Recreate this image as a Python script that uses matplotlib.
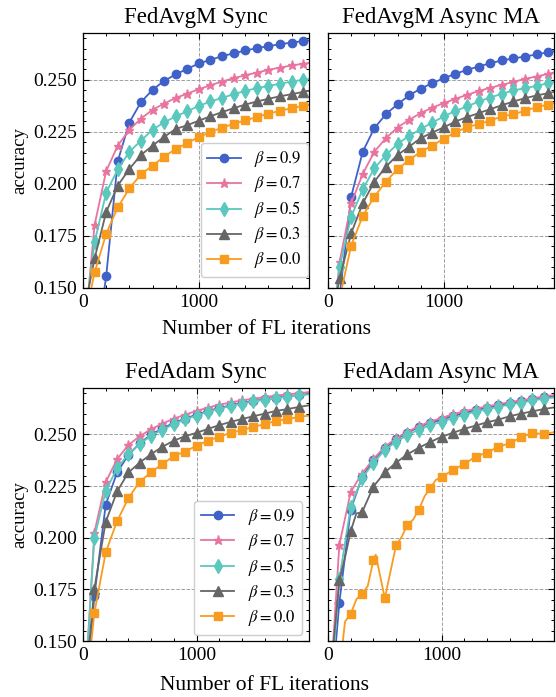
import matplotlib
matplotlib.use('Agg')
import matplotlib.pyplot as plt
from matplotlib.ticker import MultipleLocator, FormatStrFormatter

## Data (accuracy vs FL iterations, markers every 100)
iters_top = [0, 100, 200, 300, 400, 500, 600, 700, 800, 900, 1000,
             1100, 1200, 1300, 1400, 1500, 1600, 1700, 1800, 1900, 1950]
iters_bot = [0, 100, 200, 300, 400, 500, 600, 700, 800, 900, 1000,
             1100, 1200, 1300, 1400, 1500, 1600, 1700, 1800, 1900, 2000]

# FedAvgM Sync
avgm_sync_09 = [0.100, 0.117, 0.1556, 0.2109, 0.2295, 0.2393, 0.2452, 0.2495, 0.2526, 0.2553, 0.2579,
                0.2596, 0.2614, 0.2627, 0.2641, 0.2652, 0.2662, 0.2671, 0.2679, 0.2686, 0.2689]
avgm_sync_07 = [0.121, 0.1803, 0.2062, 0.2184, 0.2260, 0.2314, 0.2356, 0.2386, 0.2413, 0.2434, 0.2455,
                0.2474, 0.2492, 0.2508, 0.2522, 0.2535, 0.2548, 0.2559, 0.2569, 0.2577, 0.2581]
avgm_sync_05 = [0.128, 0.1721, 0.1958, 0.2070, 0.2154, 0.2208, 0.2260, 0.2296, 0.2324, 0.2349, 0.2375,
                0.2396, 0.2413, 0.2431, 0.2447, 0.2460, 0.2471, 0.2481, 0.2492, 0.2500, 0.2504]
avgm_sync_03 = [0.136, 0.1642, 0.1865, 0.1992, 0.2072, 0.2139, 0.2184, 0.2226, 0.2264, 0.2282, 0.2304,
                0.2325, 0.2345, 0.2364, 0.2381, 0.2396, 0.2409, 0.2421, 0.2431, 0.2442, 0.2447]
avgm_sync_00 = [0.131, 0.1575, 0.1760, 0.1888, 0.1978, 0.2046, 0.2088, 0.2131, 0.2168, 0.2196, 0.2226,
                0.2248, 0.2271, 0.2288, 0.2306, 0.2321, 0.2338, 0.2351, 0.2364, 0.2375, 0.2380]

# FedAvgM Async MA
avgm_async_09 = [0.110, 0.146, 0.1939, 0.2155, 0.2268, 0.2335, 0.2383, 0.2425, 0.2458, 0.2484, 0.2508,
                 0.2529, 0.2548, 0.2564, 0.2580, 0.2593, 0.2603, 0.2612, 0.2622, 0.2633, 0.2637]
avgm_async_07 = [0.108, 0.1625, 0.1907, 0.2048, 0.2155, 0.2220, 0.2271, 0.2308, 0.2340, 0.2367, 0.2388,
                 0.2409, 0.2428, 0.2446, 0.2462, 0.2476, 0.2490, 0.2505, 0.2516, 0.2529, 0.2535]
avgm_async_05 = [0.112, 0.1601, 0.1843, 0.1974, 0.2075, 0.2139, 0.2192, 0.2231, 0.2263, 0.2295, 0.2324,
                 0.2351, 0.2372, 0.2396, 0.2415, 0.2433, 0.2449, 0.2460, 0.2471, 0.2484, 0.2490]
avgm_async_03 = [0.125, 0.1546, 0.1763, 0.1907, 0.2011, 0.2083, 0.2139, 0.2179, 0.2220, 0.2247, 0.2272,
                 0.2300, 0.2321, 0.2340, 0.2359, 0.2378, 0.2396, 0.2412, 0.2425, 0.2436, 0.2442]
avgm_async_00 = [0.115, 0.145, 0.1704, 0.1846, 0.1939, 0.2011, 0.2071, 0.2115, 0.2155, 0.2184, 0.2218,
                 0.2248, 0.2272, 0.2288, 0.2304, 0.2324, 0.2335, 0.2351, 0.2369, 0.2381, 0.2388]

# FedAdam Sync
adam_sync_09 = [0.108, 0.1718, 0.2160, 0.2316, 0.2401, 0.2457, 0.2500, 0.2529, 0.2556, 0.2577, 0.2596,
                0.2614, 0.2628, 0.2641, 0.2652, 0.2662, 0.2670, 0.2678, 0.2684, 0.2691, 0.2697]
adam_sync_07 = [0.110, 0.2025, 0.2269, 0.2380, 0.2449, 0.2492, 0.2526, 0.2553, 0.2577, 0.2596, 0.2614,
                0.2630, 0.2644, 0.2655, 0.2665, 0.2673, 0.2681, 0.2688, 0.2694, 0.2700, 0.2706]
adam_sync_05 = [0.112, 0.2000, 0.2226, 0.2337, 0.2405, 0.2454, 0.2494, 0.2524, 0.2550, 0.2574, 0.2591,
                0.2611, 0.2625, 0.2638, 0.2649, 0.2660, 0.2668, 0.2676, 0.2683, 0.2689, 0.2695]
adam_sync_03 = [0.1165, 0.1753, 0.2077, 0.2224, 0.2316, 0.2364, 0.2405, 0.2441, 0.2470, 0.2492, 0.2508,
                0.2527, 0.2545, 0.2561, 0.2575, 0.2588, 0.2601, 0.2614, 0.2623, 0.2633, 0.2642]
adam_sync_00 = [0.111, 0.1636, 0.1929, 0.2080, 0.2192, 0.2272, 0.2317, 0.2357, 0.2396, 0.2417, 0.2446,
                0.2470, 0.2489, 0.2508, 0.2521, 0.2537, 0.2550, 0.2566, 0.2574, 0.2585, 0.2592]

# FedAdam Async MA (beta 0.3 and 0.0 are bumpy, read at finer steps)
adam_async_09 = [0.105, 0.1686, 0.2136, 0.2293, 0.2377, 0.2433, 0.2476, 0.2508, 0.2537, 0.2556, 0.2572,
                 0.2590, 0.2604, 0.2617, 0.2630, 0.2641, 0.2652, 0.2660, 0.2670, 0.2680, 0.2688]
adam_async_07 = [0.110, 0.1966, 0.2222, 0.2311, 0.2381, 0.2441, 0.2481, 0.2513, 0.2540, 0.2562, 0.2580,
                 0.2598, 0.2612, 0.2625, 0.2636, 0.2646, 0.2657, 0.2665, 0.2675, 0.2684, 0.2692]
adam_async_05 = [0.108, 0.1800, 0.2150, 0.2290, 0.2361, 0.2425, 0.2465, 0.2497, 0.2524, 0.2545, 0.2561,
                 0.2580, 0.2596, 0.2611, 0.2623, 0.2633, 0.2646, 0.2654, 0.2665, 0.2673, 0.2680]
adam_async_03_x = [0, 50, 100, 150, 200, 250, 300, 400, 500, 600, 700, 800, 900, 1000,
                   1100, 1200, 1300, 1400, 1500, 1600, 1700, 1800, 1900, 2000]
adam_async_03 = [0.110, 0.150, 0.1793, 0.1905, 0.2032, 0.2118, 0.2123, 0.2248, 0.2316, 0.2364, 0.2404,
                 0.2436, 0.2463, 0.2489, 0.2508, 0.2527, 0.2543, 0.2559, 0.2572, 0.2588, 0.2601,
                 0.2612, 0.2623, 0.2632]
adam_async_00_x = [0, 50, 100, 150, 200, 250, 300, 350, 400, 420, 500, 600, 650, 700, 750, 800,
                   850, 900, 950, 1000, 1100, 1200, 1300, 1400, 1500, 1600, 1700, 1800, 1900, 2000]
adam_async_00 = [0.100, 0.115, 0.135, 0.1594, 0.1631, 0.1702, 0.1729, 0.1766, 0.1892, 0.1918, 0.1707,
                 0.1965, 0.2005, 0.2064, 0.2088, 0.2136, 0.2200, 0.2240, 0.2280, 0.2293, 0.2329,
                 0.2357, 0.2393, 0.2412, 0.2441, 0.2457, 0.2486, 0.2508, 0.2502, 0.2512]

betas = ['0.9', '0.7', '0.5', '0.3', '0.0']
colors = ['#4062c8', '#e8749f', '#5bc8bd', '#666666', '#f89c20']
markers = ['o', '*', 'd', '^', 's']
msizes = [6, 6.5, 7, 6.5, 5.5]

plt.rcParams['font.family'] = ['Liberation Serif', 'DejaVu Serif']
plt.rcParams['mathtext.fontset'] = 'stix'
plt.rcParams['xtick.direction'] = 'in'
plt.rcParams['ytick.direction'] = 'in'
plt.rcParams['xtick.top'] = True
plt.rcParams['ytick.right'] = True
plt.rcParams['xtick.minor.visible'] = True
plt.rcParams['ytick.minor.visible'] = True

fig = plt.figure(figsize=(5.56, 6.97), dpi=100)
W, H = 556.0, 697.0


def make_ax(x0, top, w, h):
    return fig.add_axes([x0 / W, 1 - (top + h) / H, w / W, h / H])


ax_tl = make_ax(83, 33, 226, 255)
ax_tr = make_ax(328, 33, 226, 255)
ax_bl = make_ax(83, 388, 226, 253)
ax_br = make_ax(328, 388, 226, 253)

panels = [
    (ax_tl, 'FedAvgM Sync', [iters_top] * 5,
     [avgm_sync_09, avgm_sync_07, avgm_sync_05, avgm_sync_03, avgm_sync_00], 1950),
    (ax_tr, 'FedAvgM Async MA', [iters_top] * 5,
     [avgm_async_09, avgm_async_07, avgm_async_05, avgm_async_03, avgm_async_00], 1950),
    (ax_bl, 'FedAdam Sync', [iters_bot] * 5,
     [adam_sync_09, adam_sync_07, adam_sync_05, adam_sync_03, adam_sync_00], 1990),
    (ax_br, 'FedAdam Async MA', [iters_bot, iters_bot, iters_bot, adam_async_03_x, adam_async_00_x],
     [adam_async_09, adam_async_07, adam_async_05, adam_async_03, adam_async_00], 1990),
]

for ax, title, xs_list, ys_list, xmax in panels:
    for xs, ys, b, c, m, ms in zip(xs_list, ys_list, betas, colors, markers, msizes):
        mark_idx = [i for i, x in enumerate(xs) if x % 100 == 0 and x <= 1900]
        ax.plot(xs, ys, color=c, marker=m, markersize=ms, lw=1.3, markevery=mark_idx,
                label=r'$\beta = %s$' % b)
    ax.set_xlim(0, xmax)
    ax.set_ylim(0.15, 0.2725)
    ax.set_title(title, fontsize=16.5, pad=7)
    ax.xaxis.set_major_locator(MultipleLocator(1000))
    ax.xaxis.set_minor_locator(MultipleLocator(200))
    ax.yaxis.set_major_locator(MultipleLocator(0.025))
    ax.yaxis.set_minor_locator(MultipleLocator(0.005))
    ax.yaxis.set_major_formatter(FormatStrFormatter('%.3f'))
    ax.tick_params(which='major', length=4, width=0.8, labelsize=14, pad=4)
    ax.tick_params(which='minor', length=2, width=0.7)
    ax.grid(True, which='major', color='#a0a0a0', linestyle='--', lw=0.7)
    ax.set_axisbelow(True)
    for sp in ax.spines.values():
        sp.set_linewidth(0.9)

for ax in [ax_tr, ax_br]:
    ax.tick_params(labelleft=False)

for ax in [ax_tl, ax_bl]:
    ax.set_ylabel('accuracy', fontsize=13.5, labelpad=4)

ax_tl.legend(loc='lower right', bbox_to_anchor=(0.997, 0.043), borderaxespad=0,
             fontsize=12, labelspacing=0.3, handlelength=2.0, framealpha=0.95,
             edgecolor='#cccccc')
ax_bl.legend(loc='lower right', bbox_to_anchor=(0.969, 0.024), borderaxespad=0,
             fontsize=12, labelspacing=0.3, handlelength=2.0, framealpha=0.95,
             edgecolor='#cccccc')

fig.text(266 / W, 1 - 330 / H, 'Number of FL iterations', fontsize=15.5, ha='center', va='center')
fig.text(264 / W, 1 - 686 / H, 'Number of FL iterations', fontsize=15.5, ha='center', va='center')

fig.savefig('out.png', dpi=100)
